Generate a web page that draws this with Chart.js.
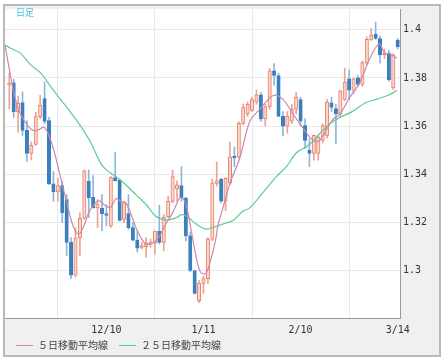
<!DOCTYPE html>
<html>
<head>
<meta charset="utf-8">
<script src="https://cdn.jsdelivr.net/npm/chart.js@4.4.1/dist/chart.umd.min.js"></script>
<style>
  html, body { margin: 0; padding: 0; background: #fff; }
  #wrap { width: 443px; height: 361px; }
</style>
</head>
<body>
<div id="wrap"><canvas id="c" width="443" height="361"></canvas></div>
<script>
// daily candles, index 0..88
const opens  = [1.3770,1.3780,1.3660,1.3698,1.3582,1.3486,1.3524,1.3639,1.3714,1.3623,
                1.3360,1.3326,1.3353,1.3295,1.3117,1.2980,1.3135,1.3217,1.3370,1.3304,
                1.3260,1.3258,1.3236,1.3185,1.3386,1.3376,1.3212,1.3236,1.3178,1.3126,
                1.3096,1.3099,1.3110,1.3113,1.3164,1.3117,1.3222,1.3287,1.3339,1.3353,
                1.3301,1.3144,1.3000,1.2875,1.2946,1.2966,1.3130,1.3362,1.3379,1.3288,
                1.3363,1.3475,1.3472,1.3611,1.3650,1.3665,1.3700,1.3730,1.3630,1.3680,
                1.3830,1.3810,1.3640,1.3600,1.3620,1.3670,1.3710,1.3602,1.3499,1.3486,
                1.3486,1.3540,1.3561,1.3697,1.3673,1.3650,1.3711,1.3796,1.3745,1.3800,
                1.3773,1.3861,1.3960,1.3982,1.3964,1.3896,1.3903,1.3759,1.3957];
const highs  = [1.3821,1.3794,1.3725,1.3742,1.3623,1.3534,1.3657,1.3728,1.3783,1.3636,
                1.3411,1.3384,1.3370,1.3315,1.3137,1.3178,1.3240,1.3418,1.3418,1.3394,
                1.3295,1.3315,1.3274,1.3390,1.3492,1.3380,1.3287,1.3315,1.3199,1.3164,
                1.3117,1.3137,1.3130,1.3164,1.3271,1.3233,1.3308,1.3417,1.3372,1.3431,
                1.3304,1.3158,1.3000,1.2959,1.2977,1.3137,1.3380,1.3451,1.3383,1.3386,
                1.3534,1.3513,1.3618,1.3691,1.3700,1.3720,1.3750,1.3740,1.3690,1.3840,
                1.3860,1.3820,1.3660,1.3660,1.3690,1.3740,1.3720,1.3630,1.3547,1.3561,
                1.3560,1.3610,1.3711,1.3720,1.3690,1.3750,1.3841,1.3834,1.3800,1.3810,
                1.3870,1.3971,1.4005,1.4032,1.3975,1.3920,1.3915,1.3900,1.3964];
const lows   = [1.3671,1.3636,1.3575,1.3561,1.3452,1.3459,1.3520,1.3630,1.3609,1.3356,
                1.3288,1.3288,1.3199,1.3062,1.2967,1.2973,1.3062,1.3213,1.3220,1.3260,
                1.3178,1.3165,1.3185,1.3178,1.3372,1.3205,1.3199,1.3171,1.3123,1.3076,
                1.3089,1.3055,1.3096,1.3069,1.3110,1.3082,1.3219,1.3281,1.3287,1.3287,
                1.3123,1.2994,1.2902,1.2866,1.2905,1.2946,1.3123,1.3351,1.3281,1.3249,
                1.3356,1.3431,1.3465,1.3605,1.3640,1.3660,1.3690,1.3620,1.3600,1.3670,
                1.3770,1.3640,1.3560,1.3570,1.3610,1.3650,1.3600,1.3506,1.3431,1.3458,
                1.3458,1.3530,1.3550,1.3660,1.3527,1.3640,1.3705,1.3711,1.3735,1.3765,
                1.3765,1.3855,1.3955,1.3960,1.3861,1.3880,1.3786,1.3752,1.3920];
const closes = [1.3780,1.3660,1.3694,1.3582,1.3486,1.3520,1.3639,1.3687,1.3619,1.3360,
                1.3326,1.3353,1.3240,1.3117,1.2980,1.3135,1.3217,1.3414,1.3302,1.3260,
                1.3277,1.3236,1.3229,1.3386,1.3372,1.3208,1.3281,1.3178,1.3126,1.3093,
                1.3103,1.3114,1.3117,1.3164,1.3117,1.3222,1.3287,1.3390,1.3356,1.3301,
                1.3144,1.3000,1.2905,1.2948,1.2966,1.3130,1.3363,1.3372,1.3288,1.3383,
                1.3472,1.3468,1.3611,1.3677,1.3690,1.3710,1.3730,1.3630,1.3680,1.3830,
                1.3810,1.3640,1.3600,1.3640,1.3670,1.3720,1.3620,1.3540,1.3486,1.3561,
                1.3554,1.3602,1.3700,1.3677,1.3650,1.3745,1.3782,1.3749,1.3796,1.3773,
                1.3864,1.3960,1.3978,1.3964,1.3896,1.3903,1.3793,1.3896,1.3930];

// moving averages (x = candle index)
const ma5X  = [-0.97,0.3,1.4,2.5,4.5,5.6,6.7,7.9,9.0,10.1,11.3,12.4,13.5,14.6,15.8,16.9,18.0,19.2,20.3,21.4,
               22.6,23.0,24.2,25.3,26.4,27.6,28.7,29.8,30.9,32.0,33.2,34.3,35.4,36.6,37.7,38.8,39.9,41.1,42.2,43.3,
               44.5,45.6,46.7,47.3,48.1,50.0,52.2,54.5,56.8,59.8,62.0,64.3,65.8,68.1,69.2,70.3,71.5,73.4,74.9,77.1,
               79.4,81.7,83.8,85.1,86.2,87.8];
const ma5Y  = [1.3937,1.3807,1.3711,1.3650,1.3595,1.3581,1.3585,1.3595,1.3561,1.3499,1.3411,1.3328,1.3246,1.3178,1.3151,1.3185,1.3240,1.3274,1.3290,1.3274,
               1.3262,1.3262,1.3298,1.3287,1.3281,1.3233,1.3178,1.3137,1.3110,1.3110,1.3123,1.3151,1.3192,1.3226,1.3267,1.3304,1.3281,1.3178,1.3069,1.2994,
               1.2987,1.3041,1.3123,1.3190,1.3240,1.3363,1.3465,1.3620,1.3670,1.3727,1.3711,1.3650,1.3610,1.3554,1.3536,1.3540,1.3574,1.3629,1.3650,1.3718,
               1.3780,1.3882,1.3941,1.3902,1.3900,1.3882];
const ma25X = [-0.97,0.3,2.5,4.8,7.1,9.3,11.6,13.9,16.1,18.4,20.7,22.0,24.2,26.4,28.7,31.0,33.2,35.5,37.8,39.2,
               40.7,42.2,44.6,46.7,48.7,50.7,52.9,54.5,58.3,60.5,62.8,65.0,67.8,70.3,72.6,74.9,77.7,80.7,83.2,85.4,
               86.9,87.8];
const ma25Y = [1.3937,1.3923,1.3903,1.3855,1.3821,1.3766,1.3711,1.3657,1.3602,1.3534,1.3445,1.3418,1.3390,1.3356,1.3315,1.3274,1.3225,1.3210,1.3219,1.3233,
               1.3219,1.3195,1.3172,1.3182,1.3195,1.3208,1.3246,1.3260,1.3342,1.3390,1.3431,1.3488,1.3520,1.3568,1.3609,1.3636,1.3660,1.3697,1.3711,1.3725,
               1.3738,1.3749];

const xTickIdx    = [0, 22, 44, 66, 88];
const xTickLabels = ['', '12/10', '1/11', '2/10', '3/14'];
const yTicks      = [1.3, 1.32, 1.34, 1.36, 1.38, 1.4];
const legendNames = ['５日移動平均線', '２５日移動平均線'];

const UP_FILL = '#fad6cc', UP_LINE = '#e5826a', UP_WICK = '#eea28f';
const DN_FILL = '#3b7fbe', DN_WICK = '#8cb7dc';
const MA5_COLOR = '#cc88ad', MA25_COLOR = '#5fcb96';

const isUp = closes.map((c, i) => c >= opens[i]);

const framePlugin = {
    id: 'frame',
    beforeDraw(chart) {
        const { ctx, chartArea: a } = chart;
        ctx.save();
        ctx.fillStyle = '#b9b9b9';
        ctx.fillRect(3, 4, 438, 353);
        ctx.fillStyle = '#f0f0f0';
        ctx.fillRect(5, 6, 434, 349);
        ctx.fillStyle = '#ffffff';
        ctx.fillRect(a.left, a.top, a.right - a.left, a.bottom - a.top);
        ctx.restore();
    },
    afterDraw(chart) {
        const { ctx, chartArea: a } = chart;
        ctx.save();
        ctx.strokeStyle = '#9a9a9a';
        ctx.lineWidth = 1;
        ctx.beginPath();
        ctx.moveTo(a.left, a.bottom + 0.5);
        ctx.lineTo(a.right + 1, a.bottom + 0.5);
        ctx.moveTo(a.right + 0.5, a.top);
        ctx.lineTo(a.right + 0.5, a.bottom + 1);
        ctx.stroke();

        // label top-left
        ctx.fillStyle = '#3fbfe6';
        ctx.font = '9px "Noto Sans CJK JP"';
        ctx.textBaseline = 'middle';
        ctx.fillText('日足', 16, 13);

        // legend
        const ly = 345;
        const items = [
            { x: 16, color: MA5_COLOR, text: legendNames[0] },
            { x: 119, color: MA25_COLOR, text: legendNames[1] }
        ];
        ctx.font = '10px "Noto Sans CJK JP"';
        items.forEach(it => {
            ctx.strokeStyle = it.color;
            ctx.beginPath();
            ctx.moveTo(it.x, ly + 0.5);
            ctx.lineTo(it.x + 17, ly + 0.5);
            ctx.stroke();
            ctx.fillStyle = '#444';
            ctx.fillText(it.text, it.x + 22, ly);
        });
        ctx.restore();
    }
};

new Chart(document.getElementById('c'), {
    data: {
        datasets: [
            {
                type: 'line',
                data: ma5X.map((x, i) => ({ x, y: ma5Y[i] })),
                borderColor: MA5_COLOR,
                borderWidth: 1.2,
                pointRadius: 0,
                tension: 0.35,
                order: 0
            },
            {
                type: 'line',
                data: ma25X.map((x, i) => ({ x, y: ma25Y[i] })),
                borderColor: MA25_COLOR,
                borderWidth: 1.2,
                pointRadius: 0,
                tension: 0.35,
                order: 0
            },
            {
                type: 'bar',
                data: opens.map((o, i) => ({ x: i, y: [opens[i], closes[i]] })),
                backgroundColor: isUp.map(u => u ? UP_FILL : DN_FILL),
                borderColor: isUp.map(u => u ? UP_LINE : DN_FILL),
                borderWidth: 1,
                borderSkipped: false,
                barThickness: 3.4,
                minBarLength: 1,
                grouped: false,
                order: 1
            },
            {
                type: 'bar',
                data: opens.map((o, i) => ({ x: i, y: [lows[i], highs[i]] })),
                backgroundColor: isUp.map(u => u ? UP_WICK : DN_WICK),
                borderWidth: 0,
                barThickness: 1,
                grouped: false,
                order: 2
            }
        ]
    },
    options: {
        responsive: false,
        animation: false,
        events: [],
        layout: { padding: { left: 5, top: 6, right: 0, bottom: 0 } },
        plugins: { legend: { display: false }, tooltip: { enabled: false } },
        scales: {
            x: {
                type: 'linear',
                min: -0.97,
                max: 88.52,
                offset: false,
                afterBuildTicks: s => { s.ticks = xTickIdx.map(v => ({ value: v })); },
                afterFit: s => { s.height = 43; },
                grid: { color: '#e9e9e9', drawTicks: false },
                border: { display: false },
                ticks: {
                    padding: 6,
                    maxRotation: 0,
                    autoSkip: false,
                    color: '#333',
                    font: { family: 'DejaVu Sans Mono', size: 10 },
                    callback: v => xTickLabels[xTickIdx.indexOf(v)]
                }
            },
            y: {
                position: 'right',
                min: 1.28025,
                max: 1.40864,
                afterBuildTicks: s => { s.ticks = yTicks.map(v => ({ value: v })); },
                afterFit: s => { s.width = 43; },
                grid: { color: '#e9e9e9', drawTicks: false },
                border: { display: false },
                ticks: {
                    padding: 3,
                    color: '#333',
                    font: { family: 'DejaVu Sans Mono', size: 10 },
                    callback: v => String(+v.toFixed(2))
                }
            }
        }
    },
    plugins: [framePlugin]
});
</script>
</body>
</html>
